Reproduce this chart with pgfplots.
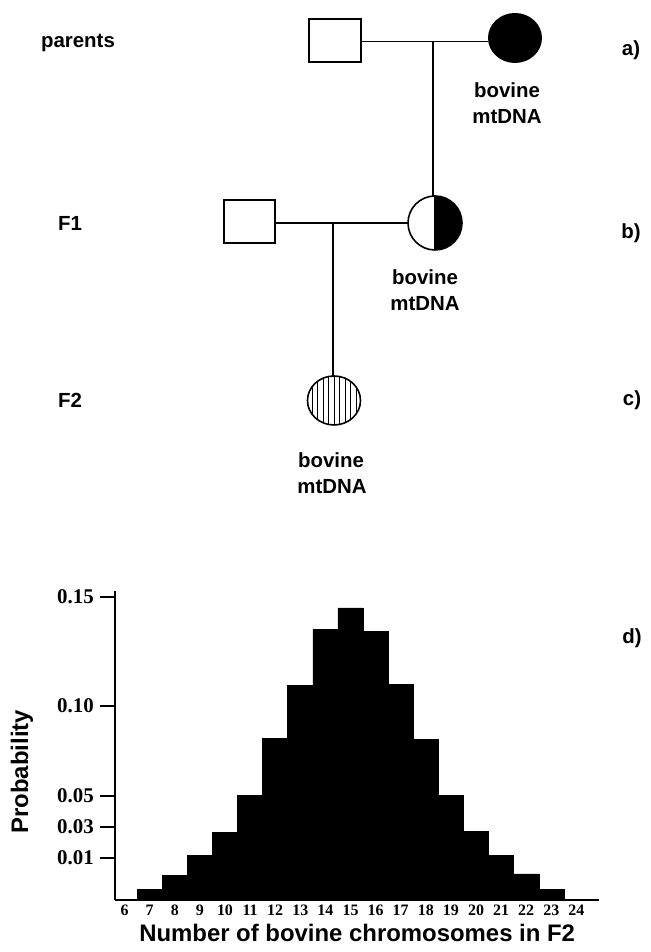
\documentclass[border=0pt]{standalone}
\usepackage{fontspec}
\setmainfont{Liberation Sans}
\newfontfamily\tnr{Liberation Serif}
\usepackage{pgfplots}
\pgfplotsset{compat=1.18}

\begin{document}
\begin{tikzpicture}
\path[use as bounding box] (0,0) rectangle (651bp,952bp);

% pedigree, drawn in pixel coordinates (y downwards)
\begin{scope}[x=1bp, y=-1bp, yshift=952bp, line width=1.6bp,
  every node/.style={font=\fontsize{20.5}{22}\selectfont\bfseries, inner sep=0pt}]
  % parents
  \draw (309,19) rectangle (361,62);
  \draw (361,41.5) -- (488,41.5);
  \fill (515,38) ellipse [x radius=27, y radius=25];
  \draw (433,41.5) -- (433,196);
  \node at (78,43) {parents};
  \node at (507,90) {bovine};
  \node at (507,117) {mtDNA};
  \node at (631,50) {a)};
  % F1
  \draw (224,200) rectangle (275,243);
  \draw (275,223) -- (408,223);
  \begin{scope}
    \clip (435,150) rectangle (480,260);
    \fill (435,223) circle [radius=27];
  \end{scope}
  \draw (435,223) circle [radius=27];
  \draw (435,196) -- (435,250);
  \draw (333,223) -- (333,376);
  \node at (70,223) {F1};
  \node at (425,277) {bovine};
  \node at (425,304) {mtDNA};
  \node at (631,233) {b)};
  % F2
  \begin{scope}
    \clip (334,400.5) ellipse [x radius=26.5, y radius=24.5];
    \foreach \xx in {312,317.5,...,357} \draw[line width=1bp] (\xx,370) -- (\xx,430);
  \end{scope}
  \draw (334,400.5) ellipse [x radius=26.5, y radius=24.5];
  \node at (70,400) {F2};
  \node at (331,460) {bovine};
  \node at (332,487) {mtDNA};
  \node at (632,400) {c)};
  \node at (632,638) {d)};
\end{scope}

\begin{axis}[
  at={(115.3bp,52bp)}, anchor=south west,
  scale only axis, width=483.7bp, height=309bp,
  xmin=5.63, xmax=24.9, ymin=0, ymax=0.1528,
  axis lines=left, axis line style={-},
  x axis line style={line width=1.4bp},
  y axis line style={line width=2bp},
  xtick={6,...,24}, xtick style={draw=none},
  ytick={0.0208,0.0361,0.0514,0.0959,0.15},
  yticklabels={0.01,0.03,0.05,0.10,0.15},
  ytick style={line width=2bp, black},
  ytick align=outside, major tick length=15bp,
  /pgf/number format/assume math mode=true,
  xticklabel style={font=\tnr\bfseries\fontsize{16}{16}\selectfont, inner sep=1bp, yshift=4bp},
  yticklabel style={font=\tnr\bfseries\fontsize{21}{21}\selectfont, xshift=-3bp},
  xlabel={Number of bovine chromosomes in F2},
  xlabel style={at={(axis description cs:0.5,-0.1068)}, anchor=center,
    font=\bfseries\fontsize{24}{26}\selectfont},
  ylabel={Probability},
  ylabel style={at={(axis description cs:-0.193,0.415)}, anchor=center,
    font=\bfseries\fontsize{24}{26}\selectfont},
  clip=false
]
\addplot[ybar, bar width=1, bar shift=0pt, fill=black, draw=black, line width=0.5bp]
  coordinates {
  (7,0.0053) (8,0.0122) (9,0.0221) (10,0.0333) (11,0.0518) (12,0.0801)
  (13,0.1062) (14,0.1339) (15,0.1444) (16,0.1329) (17,0.1065) (18,0.0795)
  (19,0.0519) (20,0.0338) (21,0.0219) (22,0.0129) (23,0.0053)
  };
\end{axis}
\end{tikzpicture}
\end{document}
